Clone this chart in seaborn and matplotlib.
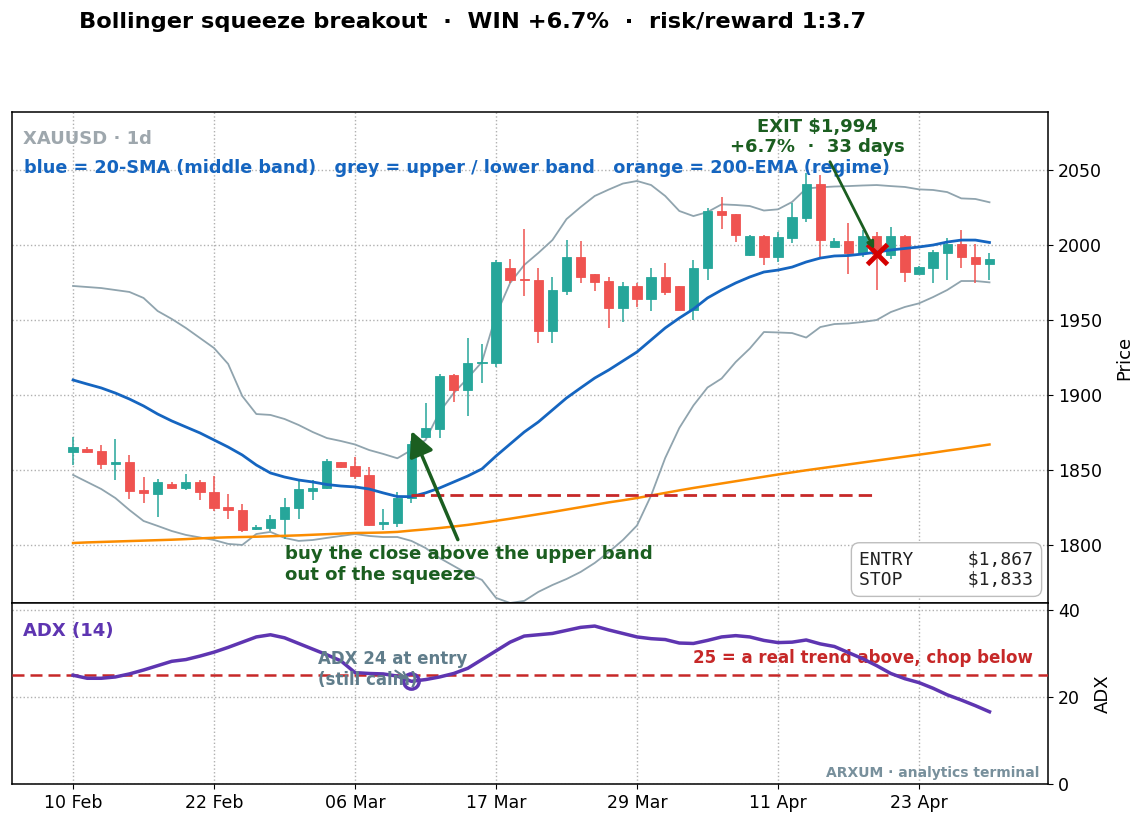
import numpy as np
import pandas as pd
import matplotlib
matplotlib.use("Agg")
import matplotlib.pyplot as plt
import seaborn as sns

# ---------------- data ----------------
tick_pos = [0, 10, 20, 30, 40, 50, 60]
tick_labels = ['10 Feb', '22 Feb', '06 Mar', '17 Mar', '29 Mar', '11 Apr', '23 Apr']

opens = [1862, 1864, 1862.5, 1854, 1855, 1836.5, 1834, 1840.5, 1838, 1842,
         1835.5, 1825.5, 1823, 1810.5, 1811.5, 1817, 1824.5, 1836, 1838, 1855,
         1852.5, 1846.5, 1814, 1814.5, 1831, 1872, 1877, 1913, 1903, 1921,
         1921.5, 1984.5, 1977.5, 1977, 1943, 1969.5, 1992, 1980.5, 1976, 1958,
         1972.5, 1964, 1978.5, 1972.5, 1957, 1985, 2022.5, 2020.5, 1993.5, 2006,
         1992, 2004.5, 2018, 2040.5, 1999, 2003, 1994.5, 2006, 1993.5, 2006,
         1981, 1985, 1995, 2000.5, 1992, 1987.5]
highs = [1872, 1865.5, 1866.5, 1870.5, 1860, 1845, 1844, 1842, 1847, 1843.5,
         1846, 1834, 1827.5, 1813, 1820, 1831, 1844, 1843, 1857, 1855.5,
         1858.5, 1852, 1824, 1835.5, 1869, 1894.5, 1914, 1914, 1938, 1934,
         1990, 1991, 2010.5, 1985, 1979, 2003.5, 2003, 1981, 1979, 1975.5,
         1974.5, 1984.5, 1988, 1973, 1990, 2025, 2032, 2021, 2007, 2006.5,
         2008.5, 2028, 2048, 2047, 2005, 2015, 2010, 2009, 2012, 2006.5,
         1986, 1997, 2004.5, 2010, 2001, 1995]
lows = [1853, 1861, 1850.5, 1843, 1830.5, 1828, 1818.5, 1837.5, 1836.5, 1830,
        1822.5, 1817, 1808.5, 1810, 1809, 1804, 1817, 1830, 1837, 1851.5,
        1844, 1812.5, 1810, 1812, 1828, 1871, 1871, 1895, 1886, 1908,
        1918.5, 1975, 1966, 1935, 1934.5, 1966.5, 1975, 1969.5, 1945, 1949,
        1959, 1956, 1967, 1956.5, 1950, 1977, 2010.5, 2002, 1993, 1986.5,
        1989, 2001.5, 2015.5, 1992, 1998.5, 1981, 1992, 1970, 1991, 1975.5,
        1980.5, 1975, 1976.5, 1984.5, 1974.5, 1976.5]
closes = [1865, 1862, 1854, 1855.5, 1836, 1834.5, 1842, 1838, 1842, 1835,
          1824.5, 1823, 1810, 1812, 1817, 1825, 1837, 1838, 1856, 1852,
          1846, 1813.5, 1815.5, 1831.5, 1867, 1878, 1912.5, 1903, 1921, 1922,
          1989, 1976.5, 1976.5, 1943, 1970, 1992, 1978.5, 1975.5, 1958, 1972.5,
          1964, 1978.5, 1968.5, 1957, 1985, 2023, 2020, 2006.5, 2006, 1992,
          2005.5, 2019, 2040.5, 2003.5, 2003, 1994.5, 2006, 1994, 2006, 1982,
          1985.5, 1995.5, 2000.5, 1992, 1987.5, 1990.5]

sma20 = [1910.0, 1907.3, 1904.7, 1901.3, 1897.3, 1892.7, 1887.3, 1882.7, 1878.7, 1874.7,
         1870.0, 1865.3, 1860.0, 1853.3, 1848.0, 1845.3, 1843.3, 1842.0, 1840.3, 1839.3,
         1838.7, 1837.3, 1834.7, 1832.3, 1832.2, 1834.7, 1838.0, 1842.0, 1846.0, 1850.7,
         1859.3, 1867.3, 1875.3, 1882.0, 1890.0, 1898.0, 1904.7, 1911.3, 1916.7, 1922.7,
         1928.7, 1936.7, 1944.7, 1951.3, 1957.3, 1964.7, 1970.0, 1974.7, 1978.7, 1982.0,
         1983.3, 1985.3, 1988.7, 1991.3, 1992.7, 1993.0, 1994.0, 1995.3, 1996.7, 1997.7,
         1998.7, 2000.0, 2002.0, 2003.3, 2003.3, 2001.7]
upper_band = [1972.7, 1972.0, 1971.3, 1970.0, 1968.7, 1964.7, 1956.0, 1950.7, 1944.7, 1938.0,
              1931.3, 1920.7, 1899.3, 1887.3, 1886.7, 1884.0, 1880.0, 1875.3, 1871.3, 1869.3,
              1867.0, 1863.3, 1860.7, 1857.8, 1863.3, 1870.0, 1888.7, 1901.3, 1911.3, 1922.0,
              1953.3, 1974.7, 1986.7, 1994.7, 2003.3, 2017.3, 2025.3, 2032.7, 2037.0, 2041.0,
              2042.7, 2040.0, 2032.7, 2022.7, 2019.3, 2022.0, 2027.1, 2026.7, 2026.0, 2023.0,
              2023.8, 2028.7, 2037.7, 2038.5, 2039.0, 2039.3, 2039.7, 2040.0, 2039.3, 2038.7,
              2037.1, 2036.7, 2035.3, 2031.1, 2030.7, 2028.5]
lower_band = [1846.7, 1842.0, 1837.3, 1831.3, 1823.3, 1816.0, 1812.7, 1809.3, 1806.7, 1805.0,
              1803.3, 1800.7, 1800.0, 1807.3, 1808.7, 1804.7, 1802.7, 1803.3, 1804.7, 1806.0,
              1807.3, 1806.0, 1805.3, 1805.3, 1802.7, 1798.0, 1791.3, 1786.0, 1780.7, 1776.7,
              1764.7, 1761.3, 1762.7, 1768.7, 1773.3, 1777.3, 1782.0, 1788.0, 1795.3, 1803.3,
              1813.0, 1833.0, 1858.0, 1878.0, 1893.0, 1905.0, 1911.0, 1922.0, 1931.0, 1942.0,
              1941.7, 1941.3, 1938.3, 1945.3, 1947.3, 1947.7, 1948.7, 1950.0, 1955.3, 1958.7,
              1961.1, 1965.3, 1970.0, 1976.0, 1976.0, 1975.1]
ema200 = [1801.3, 1801.7, 1802.0, 1802.3, 1802.6, 1802.9, 1803.2, 1803.5, 1803.9, 1804.4,
          1804.8, 1805.1, 1805.3, 1805.5, 1805.8, 1806.1, 1806.4, 1806.8, 1807.2, 1807.6,
          1808.0, 1808.1, 1808.3, 1808.7, 1809.6, 1810.4, 1811.3, 1812.3, 1813.4, 1814.7,
          1816.1, 1817.5, 1819.0, 1820.5, 1822.0, 1823.6, 1825.2, 1826.8, 1828.4, 1829.8,
          1831.3, 1833.0, 1834.7, 1836.4, 1838.0, 1839.5, 1841.0, 1842.5, 1844.0, 1845.5,
          1847.0, 1848.4, 1849.8, 1851.1, 1852.4, 1853.7, 1855.0, 1856.3, 1857.6, 1858.9,
          1860.2, 1861.5, 1862.9, 1864.2, 1865.6, 1867.0]
adx14 = [25.0, 24.3, 24.3, 24.6, 25.3, 26.2, 27.2, 28.2, 28.6, 29.4,
         30.3, 31.4, 32.6, 33.8, 34.3, 33.6, 32.3, 31.0, 29.7, 28.3,
         25.6, 25.4, 25.3, 24.8, 23.6, 24.0, 24.6, 25.4, 26.6, 28.6,
         30.6, 32.6, 34.0, 34.3, 34.6, 35.3, 36.0, 36.3, 35.4, 34.6,
         33.8, 33.4, 33.2, 32.4, 32.3, 33.0, 33.8, 34.1, 33.8, 33.0,
         32.5, 32.6, 33.1, 32.2, 31.6, 30.2, 28.8, 27.2, 25.4, 24.2,
         23.3, 22.0, 20.5, 19.3, 18.0, 16.6]

entry_idx, exit_idx = 24, 57
entry_price, exit_price, stop_price = 1867, 1994, 1833
adx_entry = 23.6
adx_threshold = 25

# ---------------- styling ----------------
plt.rcParams['font.family'] = ['DejaVu Sans']
UP, DOWN = '#26a69a', '#ef5350'
GREEN = '#1b5e20'
REDL = '#c62828'
PURPLE = '#5e35b1'

W, H = 1144, 826
fig = plt.figure(figsize=(W / 100, H / 100), dpi=100)
left = 12 / W
width = (1048 - 12) / W
ax = fig.add_axes([left, 1 - 603 / H, width, (603 - 112) / H])
ax2 = fig.add_axes([left, 1 - 784 / H, width, (784 - 603) / H], sharex=ax)

idx = np.arange(len(closes))
o = np.array(opens); c = np.array(closes)
h = np.array(highs); l = np.array(lows)
cols = [UP if cc >= oo else DOWN for oo, cc in zip(o, c)]

# wicks & bodies
ax.vlines(idx, l, h, colors=cols, lw=1.1, zorder=2)
body_b = np.minimum(o, c)
body_h = np.maximum(np.abs(c - o), 0.9)
ax.bar(idx, body_h, bottom=body_b, width=0.66, color=cols, edgecolor=cols,
       linewidth=0.6, zorder=3)

df = pd.DataFrame({'i': idx, 'sma': sma20, 'up': upper_band, 'lo': lower_band,
                   'ema': ema200, 'adx': adx14})
sns.lineplot(data=df, x='i', y='up', ax=ax, color='#90a4ae', lw=1.3, zorder=1)
sns.lineplot(data=df, x='i', y='lo', ax=ax, color='#90a4ae', lw=1.3, zorder=1)
sns.lineplot(data=df, x='i', y='sma', ax=ax, color='#1565c0', lw=2.0, zorder=4)
sns.lineplot(data=df, x='i', y='ema', ax=ax, color='#fb8c00', lw=1.8, zorder=4)

ax.hlines(stop_price, entry_idx, exit_idx, colors=REDL, lw=2,
          linestyles=(0, (4.8, 2.2)), zorder=5)
ax.plot([exit_idx], [exit_price], marker='x', color='#d50000', ms=14, mew=3.5,
        ls='none', zorder=7)

ax.annotate('buy the close above the upper band\nout of the squeeze',
            xy=(entry_idx, 1876), xytext=(15, 1800), ha='left', va='top',
            color=GREEN, fontsize=13.1, fontweight='bold',
            arrowprops=dict(arrowstyle='-|>', color=GREEN, lw=2.5,
                            mutation_scale=38, shrinkA=2, shrinkB=0), zorder=8)
ax.annotate('EXIT $1,994\n+6.7%  ·  33 days', xy=(exit_idx, exit_price),
            xytext=(52.8, 2072), ha='center', va='center', color=GREEN,
            fontsize=13, fontweight='bold',
            arrowprops=dict(arrowstyle='-|>', color=GREEN, lw=2,
                            mutation_scale=10, shrinkA=2, shrinkB=4), zorder=8)

ax.text(0.011, 0.946, 'XAUUSD · 1d', transform=ax.transAxes, color='#9ea7ad',
        fontsize=13, fontweight='bold', va='center', ha='left')
ax.text(0.012, 0.886,
        'blue = 20-SMA (middle band)   grey = upper / lower band   orange = 200-EMA (regime)',
        transform=ax.transAxes, color='#1565c0', fontsize=12.7, fontweight='bold',
        va='center', ha='left')
ax.text(0.986, 0.03, 'ENTRY     $1,867\nSTOP      $1,833', transform=ax.transAxes,
        ha='right', va='bottom', family='DejaVu Sans Mono', fontsize=13,
        color='#222222', linespacing=1.1,
        bbox=dict(boxstyle='round,pad=0.45', fc='white', ec='#bdbdbd', lw=1))

ax.set_xlim(-4.33, 69.15)
ax.set_ylim(1761.3, 2088.7)
ax.set_yticks([1800, 1850, 1900, 1950, 2000, 2050])
ax.yaxis.tick_right()
ax.yaxis.set_label_position('right')
ax.set_ylabel('Price', fontsize=13, labelpad=10)
ax.set_xlabel('')
ax.tick_params(axis='x', labelbottom=False)
ax.tick_params(labelsize=12.5)
ax.grid(True, ls=':', color='#b0b0b0', lw=1)
ax.set_axisbelow(True)

# ---------------- ADX panel ----------------
sns.lineplot(data=df, x='i', y='adx', ax=ax2, color=PURPLE, lw=2.5, zorder=4)
ax2.axhline(adx_threshold, color=REDL, lw=1.8, ls=(0, (4.8, 2.4)), zorder=3)
ax2.plot([entry_idx], [adx_entry], marker='o', mfc='none', mec=PURPLE, mew=2.5,
         ms=11, zorder=6)
ax2.annotate('ADX 24 at entry\n(still calm)', xy=(entry_idx, adx_entry),
             xytext=(17.4, 26.4), ha='left', va='center', color='#607d8b',
             fontsize=12, fontweight='bold',
             arrowprops=dict(arrowstyle='->', color='#607d8b', lw=1.5), zorder=7)
ax2.text(0.985, 27.0, '25 = a real trend above, chop below',
         transform=ax2.get_yaxis_transform(), ha='right', va='bottom',
         color=REDL, fontsize=12, fontweight='bold')
ax2.text(0.011, 0.845, 'ADX (14)', transform=ax2.transAxes, color=PURPLE,
         fontsize=13, fontweight='bold', va='center', ha='left')
ax2.text(0.992, 0.06, 'ARXUM · analytics terminal', transform=ax2.transAxes,
         color='#78909c', fontsize=10, fontweight='bold', ha='right', va='center')

ax2.set_ylim(0, 41.6)
ax2.set_yticks([0, 20, 40])
ax2.yaxis.tick_right()
ax2.yaxis.set_label_position('right')
ax2.set_ylabel('ADX', fontsize=13, labelpad=10)
ax2.set_xlabel('')
ax2.set_xticks(tick_pos)
ax2.set_xticklabels(tick_labels)
ax2.tick_params(labelsize=12.5)
ax2.grid(True, ls=':', color='#b0b0b0', lw=1)
ax2.set_axisbelow(True)

for a in (ax, ax2):
    for s in a.spines.values():
        s.set_color('black'); s.set_linewidth(1.1)

fig.text(79 / W, 1 - 22 / H,
         'Bollinger squeeze breakout  ·  WIN +6.7%  ·  risk/reward 1:3.7',
         ha='left', va='center', fontsize=16.2, fontweight='bold')

fig.savefig('out.png', dpi=100)
